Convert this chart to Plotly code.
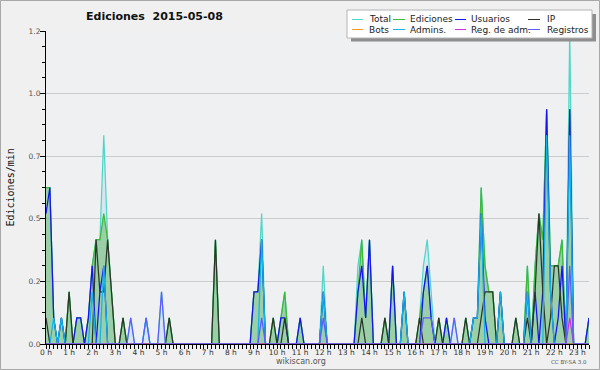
import plotly.graph_objects as go

# ---- data: edits per minute in 10-minute bins, 2015-05-08 ----
hour_labels = [f"{h} h" for h in range(24)]
hour_ticks = list(range(24))
n_bins = 142
times = [i / 6 for i in range(n_bins)]  # bin start, in hours

total = [
    0.6, 0.6, 0.1, 0, 0.1, 0, 0.2, 0, 0.1, 0.1, 0, 0.1,
    0.3, 0.4, 0.4, 0.8, 0.4, 0.2, 0, 0, 0.1, 0, 0.1, 0,
    0, 0, 0.1, 0, 0, 0, 0.2, 0, 0.1, 0, 0, 0,
    0, 0, 0, 0, 0, 0, 0, 0, 0.4, 0, 0, 0,
    0, 0, 0, 0, 0, 0, 0.2, 0.2, 0.5, 0, 0, 0.1,
    0, 0.1, 0.2, 0, 0, 0, 0.1, 0, 0, 0, 0, 0,
    0.3, 0, 0, 0, 0, 0, 0, 0, 0, 0.3, 0.4, 0.1,
    0.4, 0, 0, 0, 0.1, 0, 0.3, 0, 0, 0.2, 0, 0,
    0, 0.1, 0.3, 0.4, 0.2, 0, 0.1, 0, 0.1, 0, 0.1, 0,
    0, 0.1, 0, 0.1, 0.1, 0.6, 0.3, 0.2, 0.2, 0, 0.2, 0,
    0, 0, 0.1, 0, 0, 0.3, 0, 0.3, 0.5, 0.4, 0.9, 0.3,
    0.3, 0.3, 0.4, 0, 1.2, 0, 0, 0, 0, 0.1,
]
ediciones = [
    0.6, 0.6, 0.1, 0, 0.1, 0, 0.2, 0, 0.1, 0.1, 0, 0.1,
    0.3, 0.4, 0.4, 0.5, 0.4, 0.2, 0, 0, 0.1, 0, 0, 0,
    0, 0, 0, 0, 0, 0, 0, 0, 0.1, 0, 0, 0,
    0, 0, 0, 0, 0, 0, 0, 0, 0.4, 0, 0, 0,
    0, 0, 0, 0, 0, 0, 0.2, 0.2, 0.4, 0, 0, 0.1,
    0, 0.1, 0.2, 0, 0, 0, 0.1, 0, 0, 0, 0, 0,
    0.2, 0, 0, 0, 0, 0, 0, 0, 0, 0.2, 0.4, 0.1,
    0.4, 0, 0, 0, 0.1, 0, 0.3, 0, 0, 0.2, 0, 0,
    0, 0.1, 0.2, 0.3, 0.1, 0, 0.1, 0, 0.1, 0, 0, 0,
    0, 0.1, 0, 0.1, 0.1, 0.6, 0.3, 0.2, 0.2, 0, 0.2, 0,
    0, 0, 0.1, 0, 0, 0.3, 0, 0.3, 0.5, 0.4, 0.9, 0.3,
    0.3, 0.3, 0.4, 0, 0.9, 0, 0, 0, 0, 0.1,
]
usuarios = [
    0.5, 0.6, 0.1, 0, 0.1, 0, 0, 0, 0.1, 0.1, 0, 0.1,
    0.3, 0, 0.2, 0.3, 0, 0, 0, 0, 0, 0, 0, 0,
    0, 0, 0, 0, 0, 0, 0, 0, 0, 0, 0, 0,
    0, 0, 0, 0, 0, 0, 0, 0, 0, 0, 0, 0,
    0, 0, 0, 0, 0, 0, 0.2, 0.2, 0.4, 0, 0, 0,
    0, 0.1, 0.1, 0, 0, 0, 0.1, 0, 0, 0, 0, 0,
    0.2, 0, 0, 0, 0, 0, 0, 0, 0, 0.2, 0.3, 0.1,
    0.4, 0, 0, 0, 0, 0, 0.3, 0, 0, 0.2, 0, 0,
    0, 0, 0.2, 0.3, 0.1, 0, 0, 0, 0.1, 0, 0, 0,
    0, 0, 0, 0.1, 0.1, 0.5, 0.1, 0, 0, 0, 0.2, 0,
    0, 0, 0, 0, 0, 0.2, 0, 0.2, 0, 0.2, 0.9, 0.2,
    0, 0.1, 0.3, 0, 0.9, 0, 0, 0, 0, 0.1,
]
ip = [
    0.1, 0, 0, 0, 0, 0, 0.2, 0, 0, 0, 0, 0,
    0, 0.4, 0.2, 0.2, 0.4, 0.2, 0, 0, 0.1, 0, 0, 0,
    0, 0, 0, 0, 0, 0, 0, 0, 0.1, 0, 0, 0,
    0, 0, 0, 0, 0, 0, 0, 0, 0.4, 0, 0, 0,
    0, 0, 0, 0, 0, 0, 0, 0, 0, 0, 0, 0.1,
    0, 0, 0.1, 0, 0, 0, 0, 0, 0, 0, 0, 0,
    0, 0, 0, 0, 0, 0, 0, 0, 0, 0, 0.1, 0,
    0, 0, 0, 0, 0.1, 0, 0, 0, 0, 0, 0, 0,
    0, 0.1, 0, 0, 0, 0, 0.1, 0, 0, 0, 0, 0,
    0, 0.1, 0, 0, 0, 0.1, 0.2, 0.2, 0.2, 0, 0, 0,
    0, 0, 0.1, 0, 0, 0.1, 0, 0.2, 0.5, 0.2, 0, 0.1,
    0.3, 0.3, 0.1, 0, 0, 0, 0, 0, 0, 0,
]
bots = [
    0, 0, 0, 0, 0, 0, 0, 0, 0, 0, 0, 0,
    0, 0, 0, 0, 0, 0, 0, 0, 0, 0, 0, 0,
    0, 0, 0, 0, 0, 0, 0, 0, 0, 0, 0, 0,
    0, 0, 0, 0, 0, 0, 0, 0, 0, 0, 0, 0,
    0, 0, 0, 0, 0, 0, 0, 0, 0, 0, 0, 0,
    0, 0, 0, 0, 0, 0, 0, 0, 0, 0, 0, 0,
    0, 0, 0, 0, 0, 0, 0, 0, 0, 0, 0, 0,
    0, 0, 0, 0, 0, 0, 0, 0, 0, 0, 0, 0,
    0, 0, 0, 0, 0, 0, 0, 0, 0, 0, 0, 0,
    0, 0, 0, 0, 0, 0, 0, 0, 0, 0, 0, 0,
    0, 0, 0, 0, 0, 0, 0, 0, 0, 0, 0, 0,
    0, 0, 0, 0, 0, 0, 0, 0, 0, 0,
]
admins = [
    0, 0, 0.1, 0, 0.1, 0, 0, 0, 0, 0, 0, 0,
    0.2, 0, 0, 0.3, 0, 0, 0, 0, 0, 0, 0, 0,
    0, 0, 0.1, 0, 0, 0, 0, 0, 0, 0, 0, 0,
    0, 0, 0, 0, 0, 0, 0, 0, 0, 0, 0, 0,
    0, 0, 0, 0, 0, 0, 0, 0, 0.4, 0, 0, 0,
    0, 0, 0, 0, 0, 0, 0, 0, 0, 0, 0, 0,
    0.2, 0, 0, 0, 0, 0, 0, 0, 0, 0, 0, 0,
    0, 0, 0, 0, 0, 0, 0, 0, 0, 0.2, 0, 0,
    0, 0, 0, 0, 0, 0, 0, 0, 0, 0, 0, 0,
    0, 0, 0, 0.1, 0.1, 0.5, 0, 0, 0, 0, 0.2, 0,
    0, 0, 0, 0, 0, 0.2, 0, 0, 0, 0, 0.8, 0.2,
    0, 0, 0, 0, 0.8, 0, 0, 0, 0, 0,
]
reg_adm = [
    0, 0, 0, 0, 0, 0, 0, 0, 0, 0, 0, 0,
    0, 0, 0, 0, 0, 0, 0, 0, 0, 0, 0, 0,
    0, 0, 0, 0, 0, 0, 0, 0, 0, 0, 0, 0,
    0, 0, 0, 0, 0, 0, 0, 0, 0, 0, 0, 0,
    0, 0, 0, 0, 0, 0, 0, 0, 0, 0, 0, 0,
    0, 0, 0, 0, 0, 0, 0, 0, 0, 0, 0, 0,
    0, 0, 0, 0, 0, 0, 0, 0, 0, 0, 0, 0,
    0, 0, 0, 0, 0, 0, 0, 0, 0, 0, 0, 0,
    0, 0, 0, 0, 0, 0, 0, 0, 0, 0, 0, 0,
    0, 0, 0, 0, 0, 0, 0, 0, 0, 0, 0, 0,
    0, 0, 0, 0, 0, 0, 0, 0, 0, 0, 0, 0,
    0, 0, 0, 0, 0.1, 0, 0, 0, 0, 0,
]
registros = [
    0, 0, 0, 0, 0, 0, 0, 0, 0, 0, 0, 0,
    0, 0, 0, 0, 0, 0, 0, 0, 0, 0, 0.1, 0,
    0, 0, 0.1, 0, 0, 0, 0.2, 0, 0, 0, 0, 0,
    0, 0, 0, 0, 0, 0, 0, 0, 0, 0, 0, 0,
    0, 0, 0, 0, 0, 0, 0, 0, 0.1, 0, 0, 0,
    0, 0, 0, 0, 0, 0, 0, 0, 0, 0, 0, 0,
    0.1, 0, 0, 0, 0, 0, 0, 0, 0, 0, 0, 0,
    0, 0, 0, 0, 0, 0, 0, 0, 0, 0, 0, 0,
    0, 0, 0.1, 0.1, 0.1, 0, 0, 0, 0, 0, 0.1, 0,
    0, 0, 0, 0, 0, 0, 0, 0, 0, 0, 0, 0,
    0, 0, 0, 0, 0, 0, 0, 0, 0, 0, 0, 0,
    0, 0, 0, 0, 0.3, 0, 0, 0, 0, 0,
]

series_names = ["Total", "Ediciones", "Usuarios", "IP", "Bots", "Admins.", "Reg. de adm.", "Registros"]
series_values = [total, ediciones, usuarios, ip, bots, admins, reg_adm, registros]
series_colors = ["#4fd6c8", "#3cba3c", "#1414ee", "#2a362a", "#ff9a1a", "#14b4e6", "#cc33dd", "#5c5cff"]
series_fill = ["rgba(170,210,240,0.3)", "rgba(80,180,80,0.45)", None, None, None, None, None, None]

# ---- layout geometry (pixels) ----
W, H = 600, 370
L, R, T, B = 46, 11, 31, 26
PW, PH = W - L - R, H - T - B


def fx(px):
    return (px - L) / PW


def fy(py):
    return (H - B - py) / PH


fig = go.Figure()
for name, vals, col, fc in zip(series_names, series_values, series_colors, series_fill):
    kw = {}
    if fc:
        kw = dict(fill="tozeroy", fillcolor=fc)
    fig.add_trace(go.Scatter(
        x=times, y=vals, mode="lines", name=name,
        line=dict(color=col, width=1.25), showlegend=False, hoverinfo="skip", **kw))

font_main = "DejaVu Sans, Verdana, sans-serif"

fig.update_layout(
    width=W, height=H,
    margin=dict(l=L, r=R, t=T, b=B, pad=0),
    paper_bgcolor="#f0f0f0", plot_bgcolor="#eef0f2",
    font=dict(family=font_main, size=8, color="#333"),
    xaxis=dict(
        range=[0, times[-1]], tickmode="array", tickvals=hour_ticks, ticktext=hour_labels,
        ticks="outside", ticklen=4, tickcolor="#000", tickwidth=1,
        minor=dict(dtick=1 / 6, tick0=0, ticks="outside", ticklen=4, tickcolor="#000", showgrid=False),
        showline=True, linecolor="#000", linewidth=1, showgrid=False, zeroline=False,
        tickfont=dict(family=font_main, size=7.5, color="#333"), ticklabelstandoff=-3,
        fixedrange=True,
    ),
    yaxis=dict(
        range=[0, 1.2], tick0=0, dtick=0.24, tickformat=".1f",
        ticks="outside", ticklen=5, tickcolor="#000", tickwidth=1,
        minor=dict(dtick=0.06, tick0=0, ticks="outside", ticklen=3, tickcolor="#000", showgrid=False),
        showline=True, linecolor="#000", linewidth=1,
        showgrid=True, gridcolor="#cccccc", gridwidth=1, zeroline=False,
        tickfont=dict(family=font_main, size=7.5, color="#555"), ticklabelstandoff=-2,
        fixedrange=True,
    ),
)

shapes = []
annotations = []
# outer frame
shapes.append(dict(type="rect", xref="paper", yref="paper",
                   x0=fx(0.5), x1=fx(599.5), y0=fy(0.5), y1=fy(369.5),
                   line=dict(color="#a8a8a8", width=1), fillcolor="rgba(0,0,0,0)", layer="above"))
# legend shadow and box
shapes.append(dict(type="rect", xref="paper", yref="paper",
                   x0=fx(351), x1=fx(596), y0=fy(14), y1=fy(41.5),
                   line=dict(width=0), fillcolor="#8e8e8e", layer="above"))
shapes.append(dict(type="rect", xref="paper", yref="paper",
                   x0=fx(347), x1=fx(592), y0=fy(10), y1=fy(38),
                   line=dict(color="#b4b4b4", width=1), fillcolor="#ffffff", layer="above"))

col_line = [(352, 363), (393, 405), (455, 466), (528, 540)]
col_text = [367, 408, 469, 545]
row_y = [19.5, 29.5]
for k, (name, col) in enumerate(zip(series_names, series_colors)):
    r, c = divmod(k, 4)
    x0, x1 = col_line[c]
    shapes.append(dict(type="line", xref="paper", yref="paper",
                       x0=fx(x0), x1=fx(x1), y0=fy(row_y[r]), y1=fy(row_y[r]),
                       line=dict(color=col, width=1), layer="above"))
    annotations.append(dict(text=name, xref="paper", yref="paper", x=fx(col_text[c]), y=fy(row_y[r]),
                            xanchor="left", yanchor="middle", showarrow=False,
                            font=dict(family=font_main, size=9, color="#222")))

annotations.append(dict(text="<b>Ediciones\u00a0 2015-05-08</b>", xref="paper", yref="paper",
                        x=fx(154), y=fy(16.5), xanchor="center", yanchor="middle", showarrow=False,
                        font=dict(family=font_main, size=11, color="#111")))
annotations.append(dict(text="Ediciones/min", xref="paper", yref="paper",
                        x=fx(10), y=fy(187.5), xanchor="center", yanchor="middle", showarrow=False,
                        textangle=-90, font=dict(family="DejaVu Sans Mono, monospace", size=10, color="#111")))
annotations.append(dict(text="wikiscan.org", xref="paper", yref="paper",
                        x=fx(301), y=fy(361.5), xanchor="center", yanchor="middle", showarrow=False,
                        font=dict(family=font_main, size=8, color="#555")))
annotations.append(dict(text="CC BY-SA 3.0", xref="paper", yref="paper",
                        x=fx(568.5), y=fy(362), xanchor="center", yanchor="middle", showarrow=False,
                        font=dict(family=font_main, size=5.5, color="#555")))

fig.update_layout(shapes=shapes, annotations=annotations)
fig.write_html("out.html", config={"displayModeBar": False},
               post_script="document.body.style.margin='0';document.body.style.overflow='hidden';")
